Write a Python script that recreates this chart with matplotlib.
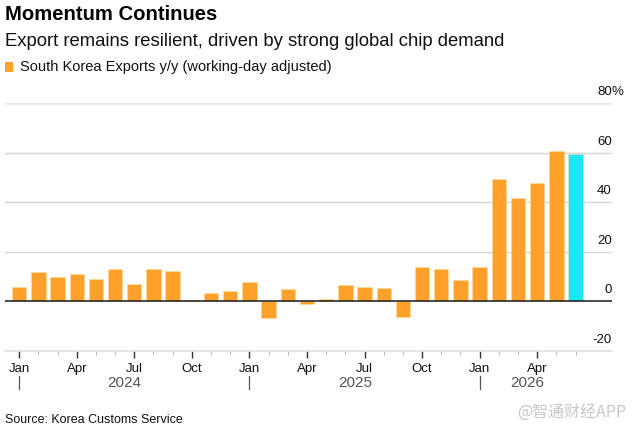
import matplotlib
matplotlib.use("Agg")
import matplotlib.pyplot as plt
import matplotlib.transforms as mtransforms
import numpy as np

# ---- data ----
months = ["Jan", "Feb", "Mar", "Apr", "May", "Jun", "Jul", "Aug", "Sep", "Oct", "Nov", "Dec"]
years = [2024, 2025, 2026]
values = [5.5, 11.6, 9.6, 10.9, 8.8, 12.8, 6.7, 13.1, 12.3, 0.3, 3.3, 4.1,
          7.7, -6.7, 4.9, -1.1, 0.7, 6.6, 5.5, 5.4, -6.3, 13.7, 13.1, 8.5,
          13.7, 49.2, 41.8, 47.8, 60.5, 59.3]
highlight_last = True
yticks = [-20, 0, 20, 40, 60, 80]
title = "Momentum Continues"
subtitle = "Export remains resilient, driven by strong global chip demand"
legend_label = "South Korea Exports y/y (working-day adjusted)"
source = "Source: Korea Customs Service"
watermark = "@智通财经APP"

ORANGE = "#FFA12B"
CYAN = "#1CE8F5"

plt.rcParams['font.family'] = ['Liberation Sans', 'DejaVu Sans']

W, H = 633, 435
fig = plt.figure(figsize=(W / 100, H / 100), dpi=100)

def fx(px):
    return px / W

def fy(py):
    return 1 - py / H

ax_left, ax_right, ax_top, ax_bot = 5, 612, 104, 351.5
ax = fig.add_axes([fx(ax_left), fy(ax_bot), fx(ax_right - ax_left), (ax_bot - ax_top) / H])

n = len(values)
x = np.arange(n)
colors = [ORANGE] * n
if highlight_last:
    colors[-1] = CYAN
ax.bar(x, values, width=0.75, color=colors, edgecolor=(1, 0.85, 0.65, 0.6), linewidth=0.6, zorder=3)

ax.set_xlim(-0.74, 30.9)
ax.set_ylim(-20, 80)

# gridlines
for v in yticks:
    if v == -20:
        continue
    if v == 0:
        ax.axhline(0, color="#1a1a1a", lw=1.1, zorder=4)
    elif v == 80:
        ax.axhline(v, color="#e6e6e6", lw=1.8, zorder=1)
    else:
        ax.axhline(v, color="#d6d6d6", lw=1.0, zorder=1)

ax.set_yticks([])
for s in ["top", "right", "left"]:
    ax.spines[s].set_visible(False)
ax.spines["bottom"].set_color("#e0e0e0")
ax.spines["bottom"].set_linewidth(1.2)

# y labels above gridlines, right aligned
trans = mtransforms.blended_transform_factory(fig.transFigure, ax.transData)
lab_trans = mtransforms.offset_copy(trans, fig=fig, x=0, y=8.3, units='points')
for v in yticks:
    ax.text(fx(611.7), v, f"{v}", transform=lab_trans, ha="right", va="center",
            fontsize=9.5, color="#111111")
    if v == 80:
        ax.text(fx(611.7), v, "%", transform=lab_trans, ha="left", va="center",
                fontsize=9.5, color="#111111")

# x ticks: monthly minor, quarterly major
ax.set_xticks(x, minor=True)
major = [i for i in range(n) if i % 3 == 0]
ax.set_xticks(major)
ax.set_xticklabels([months[i % 12] for i in major])
ax.tick_params(axis="x", which="major", length=5, width=1.0, color="#333333",
               labelsize=9.5, pad=3, labelcolor="#111111")
ax.tick_params(axis="x", which="minor", length=3, width=0.8, color="#bbbbbb")

# year labels and separators
transx = mtransforms.blended_transform_factory(ax.transData, fig.transFigure)
for yr in years:
    idx = [i for i in range(n) if 2024 + i // 12 == yr]
    if not idx:
        continue
    mid = (idx[0] + idx[-1]) / 2
    ax.text(mid, fy(383.5), str(yr), transform=transx, ha="center", va="center",
            fontsize=11, color="#555555")
    ax.plot([idx[0], idx[0]], [fy(377), fy(390)], transform=transx, color="#555555",
            lw=0.9, clip_on=False)

# titles
fig.text(fx(5), fy(15), title, fontsize=14.6, fontweight="bold", ha="left", va="center", color="#000000")
fig.text(fx(5), fy(42), subtitle, fontsize=13.3, ha="left", va="center", color="#111111")
fig.patches.append(plt.Rectangle((fx(5), fy(73)), fx(8), 10 / H, transform=fig.transFigure,
                                 facecolor=ORANGE, edgecolor="none"))
fig.text(fx(20), fy(67.5), legend_label, fontsize=10.5, ha="left", va="center", color="#111111")
fig.text(fx(5), fy(420), source, fontsize=9, ha="left", va="center", color="#111111")
fig.text(fx(626), fy(413), watermark, fontsize=11.5, ha="right", va="center", color="#c8c8c8",
         family=["Noto Sans CJK SC", "DejaVu Sans"])

fig.savefig("out.png", dpi=100)
